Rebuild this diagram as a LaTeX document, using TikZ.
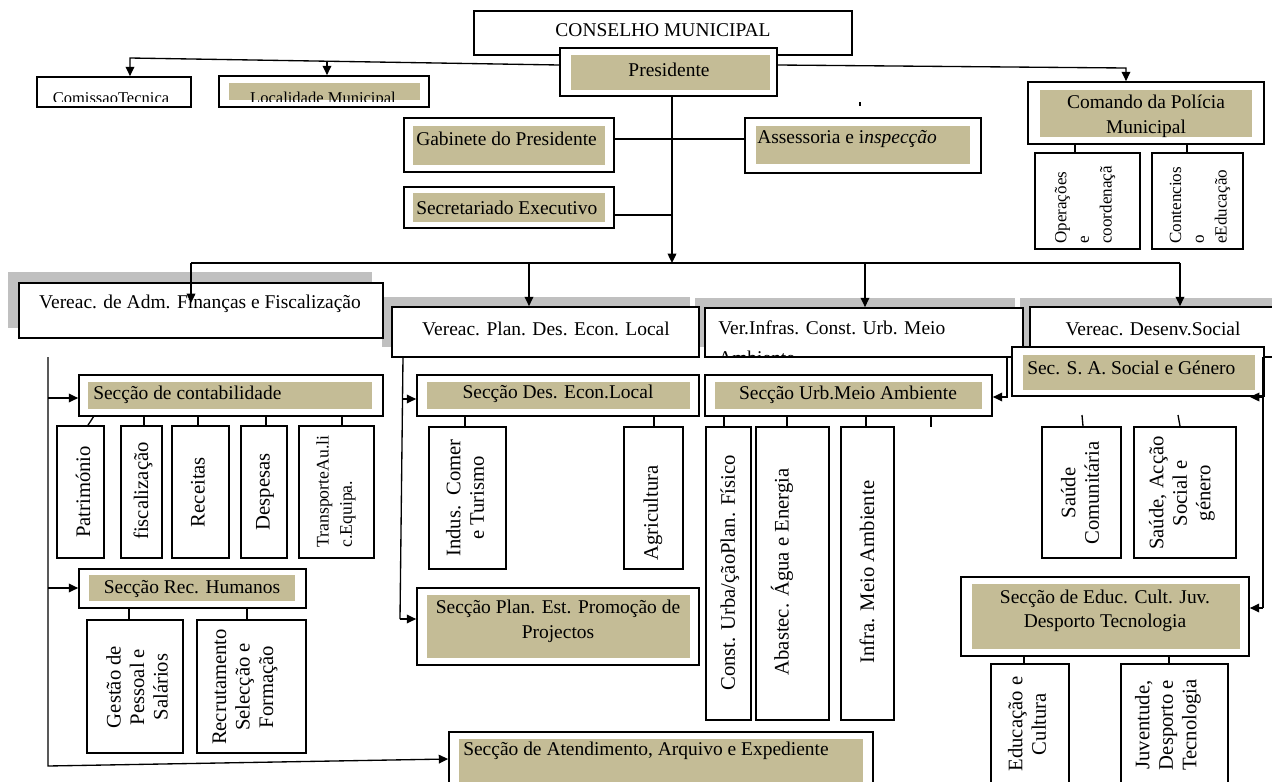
\documentclass[tikz,border=0pt]{standalone}
\usepackage{fontspec}
\setmainfont{Liberation Serif}
\usetikzlibrary{fit,arrows.meta,calc}
\definecolor{tanc}{RGB}{196,188,150}
\definecolor{shc}{RGB}{192,192,192}
\newcommand\fmain{\fontsize{14.6}{18.5}\selectfont}
\newcommand\frot{\fontsize{15.5}{17.6}\selectfont}
\newcommand\frsm{\fontsize{12.8}{17}\selectfont}
\newcommand\fsmall{\fontsize{12.4}{15}\selectfont}
\begin{document}
\begin{tikzpicture}[x=0.75pt,y=-0.75pt,
 ob/.style={draw, line width=1.3pt, fill=white, inner sep=0pt},
 ib/.style={fill=tanc, inner sep=0pt},
 sh/.style={fill=shc, inner sep=0pt},
 lbl/.style={font=\fmain, inner sep=0pt},
 rl/.style={font=\frot, inner sep=0pt, rotate=90, align=center},
 rs/.style={font=\frsm, inner sep=0pt, rotate=90, align=left, anchor=west},
 cn/.style={line width=1pt},
 ar/.style={line width=1pt, -{Triangle[length=7pt,width=6.5pt]}}]
\clip (0,0) rectangle (1272,782);
\fill[white] (0,0) rectangle (1272,782);

% ---- top level
\node[ob, fit={(474,11)(852,55)}] (cons) {};
\node[lbl] (tcons) at (663,30) {CONSELHO MUNICIPAL};
\node[ob, fit={(560,48)(777,96)}] (pres) {};
\node[ib, fit={(571,55)(770,90)}] (presi) {};
\node[lbl] (tpres) at (669,70) {Presidente};

\node[ob, fit={(37,77)(191,107)}] (comi) {};
\begin{scope}
\clip (38,78) rectangle (190,101);
\node[font=\fsmall, inner sep=0pt, anchor=base] (tcomi) at (111,103) {ComissaoTecnica};
\end{scope}
\node[ob, fit={(219,76)(429,107)}] (loc) {};
\node[ib, fit={(229,83)(420,100)}] (loci) {};
\begin{scope}
\clip (220,77) rectangle (428,101);
\node[font=\fsmall, inner sep=0pt, anchor=base] (tloc) at (323,103) {Localidade Municipal};
\end{scope}

\node[ob, fit={(404,118)(614,172)}] (gab) {};
\node[ib, fit={(413,126)(605,165)}] (gabi) {};
\node[lbl, anchor=west] (tgab) at (416,139) {Gabinete do Presidente};
\node[ob, fit={(404,187)(614,228)}] (sec) {};
\node[ib, fit={(413,193)(605,222)}] (seci) {};
\node[lbl, anchor=west] (tsec) at (416,208) {Secretariado Executivo};
\node[ob, fit={(745,118)(981,173)}] (ass) {};
\node[ib, fit={(756,126)(970,164)}] (assi) {};
\node[lbl, anchor=west] (tass) at (757,139) {Assessoria e i\textit{nspecção}};

\node[ob, fit={(1028,82)(1264,144)}] (cmd) {};
\node[ib, fit={(1040,90)(1252,137)}] (cmdi) {};
\node[lbl, align=center] (tcmd) at (1146,116) {Comando da Polícia\\Municipal};
\node[ob, fit={(1035,153)(1140,249)}] (ope) {};
\node[rs] (tope) at (1085,244) {Operações\\e\\coordenaçã};
\node[ob, fit={(1152,153)(1243,249)}] (con) {};
\node[rs] (tcon) at (1200,244) {Contencios\\o\\eEducação};

% ---- vereadores
\node[sh, fit={(8,272)(372,328)}] (adms) {};
\node[sh, fit={(382,297)(690,347)}] (plans) {};
\node[sh, fit={(695,298)(1015,347)}] (infs) {};
\node[sh, fit={(1020,298)(1290,347)}] (dess) {};
\node[ob, fit={(19,283)(383,338)}] (adm) {};
\node[lbl] (tadm) at (200,304) {Vereac. de Adm. Finanças e Fiscalização};
\node[ob, fit={(392,307)(699,357)}] (plan) {};
\node[lbl] (tplan) at (546,329) {Vereac. Plan. Des. Econ. Local};
\node[ob, fit={(705,308)(1023,357)}] (inf) {};
\begin{scope}
\clip (706,309) rectangle (1022,355.5);
\node[lbl, anchor=base west] (tinf) at (718,334) {Ver.Infras. Const. Urb. Meio};
\node[lbl, anchor=base west] (tinf2) at (718,364) {Ambiente};
\end{scope}
\node[ob, fit={(1030,307)(1290,357)}] (des) {};
\node[lbl] (tdes) at (1153,329) {Vereac. Desenv.Social};
\node[ob, fit={(1012,347)(1264,396)}] (ssa) {};
\node[ib, fit={(1023,355)(1255,390)}] (ssai) {};
\node[lbl, anchor=west] (tssa) at (1027,368) {Sec. S. A. Social e Género};

% ---- Adm branch
\node[ob, fit={(79,375)(383,416)}] (cont) {};
\node[ib, fit={(88,382)(372,409)}] (conti) {};
\node[lbl, anchor=west] (tcont) at (93,395) {Secção de contabilidade};
\node[ob, fit={(57,426)(104,558)}] (pat) {};
\node[rl] (tpat) at (83,492) {Património};
\node[ob, fit={(121,426)(162,558)}] (fis) {};
\node[rl] (tfis) at (143,491) {fiscalização};
\node[ob, fit={(172,426)(229,558)}] (rec) {};
\node[rl] (trec) at (198,492) {Receitas};
\node[ob, fit={(241,426)(287,558)}] (desp) {};
\node[rl] (tdesp) at (265,492) {Despesas};
\node[ob, fit={(299,426)(374,558)}] (tra) {};
\node[rs, font=\fontsize{13.3}{17.3}\selectfont] (ttra) at (336,548) {TransporteAu.li\\c.Equipa.};

\node[ob, fit={(79,569)(306,608)}] (rh) {};
\node[ib, fit={(89,575)(295,601)}] (rhi) {};
\node[lbl] (trh) at (192,589) {Secção Rec. Humanos};
\node[ob, fit={(87,620)(183,753)}] (ges) {};
\node[rl] (tges) at (137,687) {Gestão de\\Pessoal e\\Salários};
\node[ob, fit={(197,620)(306,753)}] (recr) {};
\node[rl] (trecr) at (245,687) {Recrutamento\\Selecção e\\Formação};

% ---- Plan branch
\node[ob, fit={(417,375)(699,416)}] (dec) {};
\node[ib, fit={(427,382)(690,409)}] (deci) {};
\node[lbl] (tdec) at (558,394) {Secção Des. Econ.Local};
\node[ob, fit={(429,427)(506,569)}] (ind) {};
\node[rl] (tind) at (465,498) {Indus.\ \ Comer\\e Turismo};
\node[ob, fit={(624,427)(683,569)}] (agr) {};
\node[rl] (tagr) at (653,513) {Agricultura};
\node[ob, fit={(417,588)(699,665)}] (pep) {};
\node[ib, fit={(427,595)(690,658)}] (pepi) {};
\node[lbl, align=center] (tpep) at (558,621) {Secção Plan. Est. Promoção de\\Projectos};
\node[ob, fit={(449,732)(873,800)}] (ate) {};
\node[ib, fit={(459,739)(863,795)}] (atei) {};
\node[lbl, anchor=west] (tate) at (463,751) {Secção de Atendimento, Arquivo e Expediente};

% ---- Infras branch
\node[ob, fit={(705,375)(992,416)}] (urb) {};
\node[ib, fit={(715,382)(982,409)}] (urbi) {};
\node[lbl] (turb) at (848,395) {Secção Urb.Meio Ambiente};
\node[ob, fit={(706,427)(751,720)}] (cup) {};
\node[rl] (tcup) at (730,573) {Const. Urba/çãoPlan. Físico};
\node[ob, fit={(756,427)(829,720)}] (aba) {};
\node[rl] (taba) at (782,572) {Abastec. Água e Energia};
\node[ob, fit={(841,427)(894,720)}] (ima) {};
\node[rl] (tima) at (867,572) {Infra. Meio Ambiente};

% ---- Social branch
\node[ob, fit={(1042,427)(1121,558)}] (sco) {};
\node[rl] (tsco) at (1080,493) {Saúde\\Comunitária};
\node[ob, fit={(1134,427)(1236,558)}] (sas) {};
\node[rl] (tsas) at (1182,493) {Saúde, Acção\\Social e\\género};
\node[ob, fit={(961,577)(1249,656)}] (edu) {};
\node[ib, fit={(972,584)(1240,649)}] (edui) {};
\node[lbl, align=center] (tedu) at (1105,611) {Secção de Educ. Cult. Juv.\\Desporto Tecnologia};
\node[ob, fit={(991,664)(1069,800)}] (edc) {};
\node[rl] (tedc) at (1027,724) {Educação e\\Cultura};
\node[ob, fit={(1121,664)(1228,800)}] (juv) {};
\node[rl] (tjuv) at (1168,725) {Juventude,\\Desporto e\\Tecnologia};

% ---- connectors
\coordinate (hub) at (672,263);
\draw[ar] (pres.west |- 0,65) -- (130,58) -- (comi.north -| 130,0);
\draw[ar] (327,60.5) -- (loc.north -| 327,0);
\draw[ar] (pres.east |- 0,65) -- (1126,68) -- (cmd.north -| 1126,0);
\draw[cn] (cmd.south -| 1075,0) -- (ope.north -| 1075,0);
\draw[cn] (cmd.south -| 1187,0) -- (con.north -| 1187,0);
\draw[ar] (pres.south -| hub) -- (hub);
\draw[cn] (gab.east |- 0,139) -- (ass.west |- 0,139);
\draw[cn] (sec.east |- 0,215) -- (672,215);
\draw[cn] (191,263) -- (1180,263);
\draw[ar] (191,263) -- (191,303);
\draw[ar] (529,263) -- (plan.north -| 529,0);
\draw[ar] (865,263) -- (inf.north -| 865,0);
\draw[ar] (1180,263) -- (des.north -| 1180,0);

\draw[ar] (48,357) -- (48,766) -- (ate.west |- 0,759);
\draw[ar] (48,398) -- (cont.west |- 0,398);
\draw[ar] (48,588) -- (rh.west |- 0,588);
\draw[cn] (94,416) -- (pat.north -| 88,0);
\foreach \x/\n in {144/fis,198/rec,266/desp,342/tra}
  \draw[cn] (cont.south -| \x,0) -- (\n.north -| \x,0);
\draw[cn] (rh.south -| 129,0) -- (ges.north -| 129,0);
\draw[cn] (rh.south -| 247,0) -- (recr.north -| 247,0);

\draw[cn] (403,357) -- (400,619);
\draw[ar] (402.5,399) -- (dec.west |- 0,399);
\draw[ar] (400,619) -- (pep.west |- 0,619);
\draw[cn] (dec.south -| 465,0) -- (ind.north -| 465,0);
\draw[cn] (dec.south -| 654,0) -- (agr.north -| 654,0);

\draw[ar] (1007,357) -- (1007,397) -- (urb.east |- 0,397);
\draw[cn] (urb.south -| 724,0) -- (cup.north -| 724,0);
\draw[cn] (urb.south -| 787,0) -- (aba.north -| 787,0);
\draw[cn] (urb.south -| 866,0) -- (ima.north -| 866,0);
\draw[cn] (urb.south -| 931,0) -- (931,427);

\draw[cn] (1263,357) -- (1263,608);
\draw[ar] (1263,397) -- (1250,397);
\draw[ar] (1263,608) -- (edu.east |- 0,608);
\draw[cn] (1082,415) -- (sco.north -| 1083,0);
\draw[cn] (1178,415) -- (sas.north -| 1180,0);
\draw[cn] (edu.south -| 1024,0) -- (edc.north -| 1024,0);
\draw[cn] (edu.south -| 1169,0) -- (juv.north -| 1169,0);
\draw[line width=0.8pt] (860,102) -- (860,106);
\end{tikzpicture}
\end{document}
